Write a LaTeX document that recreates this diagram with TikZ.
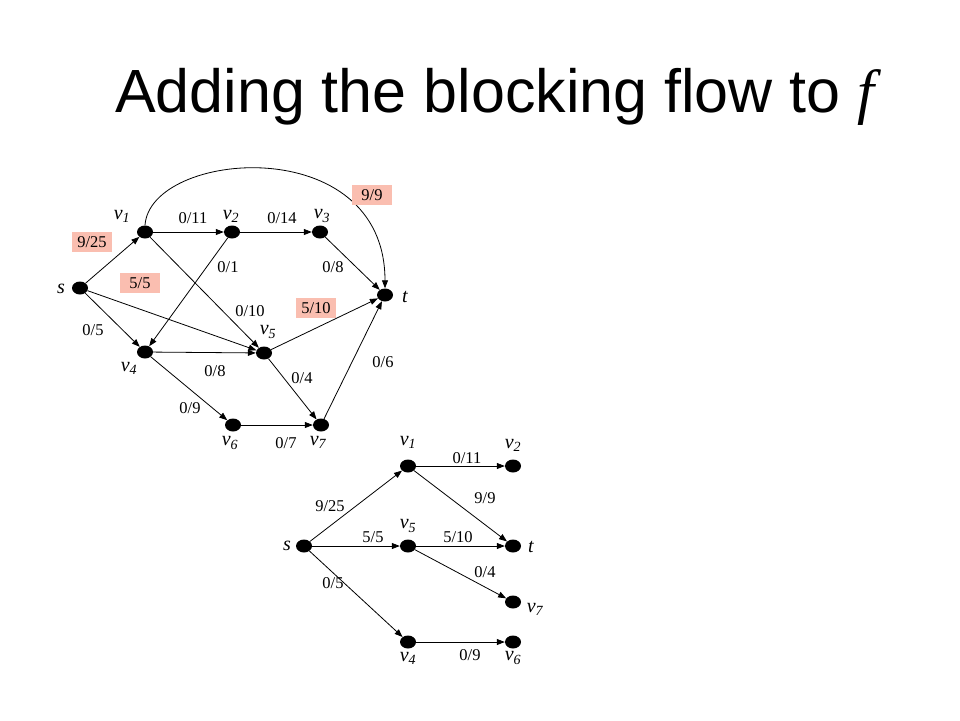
\documentclass[tikz,border=0pt]{standalone}
\usepackage{fontspec}
\setmainfont{Liberation Serif}
\newfontfamily\titlefont{Liberation Sans}
\usetikzlibrary{shapes.geometric,arrows.meta,positioning}
\definecolor{flowpink}{RGB}{250,190,176}

\tikzset{
    vertex/.style={ellipse, fill=black, minimum width=16pt, minimum height=13pt, inner sep=0pt},
    vname/.style={font=\fontsize{20}{20}\selectfont\itshape, inner sep=0pt},
    flowcap/.style={font=\fontsize{16.5}{16.5}\selectfont, inner sep=0pt},
    capmark/.style={flowcap, fill=flowpink, minimum width=40pt, minimum height=20pt},
    flowedge/.style={-{Triangle[length=8pt,width=6pt]}, line width=0.8pt}
}

\begin{document}
\begin{tikzpicture}[x=1pt, y=-1pt]
    \useasboundingbox (0,0) rectangle (960,720);
    \node[anchor=base west, inner sep=0pt, font=\titlefont\fontsize{61}{61}\selectfont] (title) at (115,112)
        {Adding the blocking flow to {\rmfamily\itshape f}};

    % level graph with f
    \node[vertex] (s)  at (80,288) {};
    \node[vertex] (v1) at (145,232) {};
    \node[vertex] (v2) at (232,232) {};
    \node[vertex] (v3) at (320,232) {};
    \node[vertex] (t)  at (385,295) {};
    \node[vertex] (v4) at (145,352) {};
    \node[vertex] (v5) at (264,353) {};
    \node[vertex] (v6) at (233,425) {};
    \node[vertex] (v7) at (321,425) {};

    \node[vname] (ls)  at (61,289) {s};
    \node[vname] (lt)  at (405,297) {t};
    \node[vname] (lv1) at (122,216) {v\textsubscript{1}};
    \node[vname] (lv2) at (231,216) {v\textsubscript{2}};
    \node[vname] (lv3) at (322,216) {v\textsubscript{3}};
    \node[vname] (lv4) at (129,368) {v\textsubscript{4}};
    \node[vname] (lv5) at (268,332) {v\textsubscript{5}};
    \node[vname] (lv6) at (230,443) {v\textsubscript{6}};
    \node[vname] (lv7) at (318,442) {v\textsubscript{7}};

    \draw[flowedge] (v1.north) .. controls (150,150) and (385,130) .. (t.north);
    \draw[flowedge] (s) -- (v1);
    \draw[flowedge] (s) -- (v4);
    \draw[flowedge] (s) -- (v5);
    \draw[flowedge] (v1) -- (v2);
    \draw[flowedge] (v2) -- (v3);
    \draw[flowedge] (v1) -- (v5);
    \draw[flowedge] (v2) -- (v4);
    \draw[flowedge] (v3) -- (t);
    \draw[flowedge] (v4) -- (v5);
    \draw[flowedge] (v4) -- (v6);
    \draw[flowedge] (v5) -- (t);
    \draw[flowedge] (v5) -- (v7);
    \draw[flowedge] (v6) -- (v7);
    \draw[flowedge] (v7) -- (t);

    \node[capmark] (c-sv1)  at (92,242) {9/25};
    \node[capmark] (c-sv5)  at (140,283) {5/5};
    \node[capmark] (c-v5t)  at (316,308) {5/10};
    \node[capmark] (c-v1t)  at (372,195) {9/9};
    \node[flowcap] (c-v1v2) at (193,218) {0/11};
    \node[flowcap] (c-v2v3) at (282,218) {0/14};
    \node[flowcap] (c-v2v4) at (228,267) {0/1};
    \node[flowcap] (c-v3t)  at (333,267) {0/8};
    \node[flowcap] (c-v1v5) at (250,311) {0/10};
    \node[flowcap] (c-sv4)  at (93,330) {0/5};
    \node[flowcap] (c-v4v5) at (215,371) {0/8};
    \node[flowcap] (c-v5v7) at (302,378) {0/4};
    \node[flowcap] (c-v7t)  at (383,362) {0/6};
    \node[flowcap] (c-v4v6) at (190,408) {0/9};
    \node[flowcap] (c-v6v7) at (286,443) {0/7};

    % blocking flow
    \node[vertex] (bs)  at (304,546) {};
    \node[vertex] (bv1) at (408,466) {};
    \node[vertex] (bv2) at (513,466) {};
    \node[vertex] (bv5) at (408,546) {};
    \node[vertex] (bt)  at (513,546) {};
    \node[vertex] (bv7) at (513,602) {};
    \node[vertex] (bv4) at (408,642) {};
    \node[vertex] (bv6) at (513,642) {};

    \node[vname] (lbs)  at (287,546) {s};
    \node[vname] (lbt)  at (531,547) {t};
    \node[vname] (lbv1) at (408,442) {v\textsubscript{1}};
    \node[vname] (lbv2) at (513,445) {v\textsubscript{2}};
    \node[vname] (lbv5) at (408,526) {v\textsubscript{5}};
    \node[vname] (lbv7) at (535,609) {v\textsubscript{7}};
    \node[vname] (lbv4) at (408,658) {v\textsubscript{4}};
    \node[vname] (lbv6) at (513,658) {v\textsubscript{6}};

    \draw[flowedge] (bs) -- (bv1);
    \draw[flowedge] (bs) -- (bv5);
    \draw[flowedge] (bs) -- (bv4);
    \draw[flowedge] (bv1) -- (bv2);
    \draw[flowedge] (bv1) -- (bt);
    \draw[flowedge] (bv5) -- (bt);
    \draw[flowedge] (bv5) -- (bv7);
    \draw[flowedge] (bv4) -- (bv6);

    \node[flowcap] (b-v1v2) at (467,458) {0/11};
    \node[flowcap] (b-v1t)  at (485,498) {9/9};
    \node[flowcap] (b-sv1)  at (330,506) {9/25};
    \node[flowcap] (b-sv5)  at (373,537) {5/5};
    \node[flowcap] (b-v5t)  at (458,537) {5/10};
    \node[flowcap] (b-v5v7) at (485,572) {0/4};
    \node[flowcap] (b-sv4)  at (333,583) {0/5};
    \node[flowcap] (b-v4v6) at (470,655) {0/9};
\end{tikzpicture}
\end{document}
